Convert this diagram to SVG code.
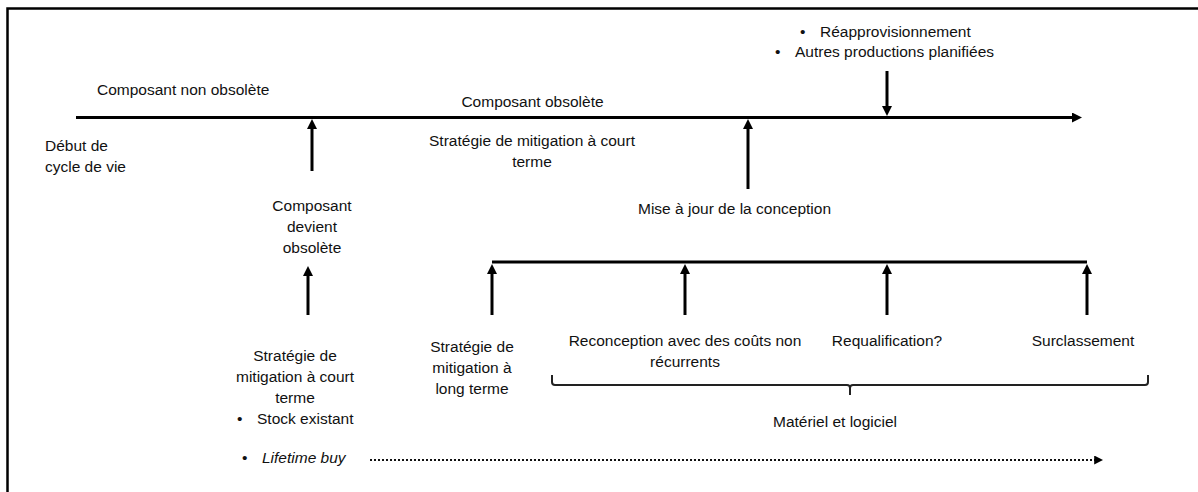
<svg xmlns="http://www.w3.org/2000/svg" width="1198" height="492" viewBox="0 0 1198 492">
<style>
  text { font-family: "Liberation Sans", Arial, sans-serif; font-size: 15.5px; fill: #111; }
  .mid { text-anchor: middle; }
  .ln { stroke: #000; stroke-width: 3; fill: none; }
  .brace { stroke: #222; stroke-width: 2; fill: none; }
  .dot { stroke: #111; stroke-width: 2; stroke-dasharray: 2 2; fill: none; }
</style>
<defs>
  <marker id="ah" viewBox="0 0 10 10" refX="2" refY="5" markerWidth="10" markerHeight="10" markerUnits="userSpaceOnUse" orient="auto">
    <path d="M0,0 L10,5 L0,10 z" fill="#000"/>
  </marker>
  <marker id="ah2" viewBox="0 0 10 10" refX="2" refY="5" markerWidth="9" markerHeight="9" markerUnits="userSpaceOnUse" orient="auto">
    <path d="M0,0 L10,5 L0,10 z" fill="#000"/>
  </marker>
</defs>
<rect width="1198" height="492" fill="#fff"/>
<rect x="7.5" y="8.5" width="1200" height="500" fill="none" stroke="#000" stroke-width="2.5"/>

<g id="connectors">
  <line class="ln" x1="76" y1="117.5" x2="1074" y2="117.5" marker-end="url(#ah)"/>
  <line class="ln" x1="312" y1="171" x2="312" y2="127" marker-end="url(#ah)"/>
  <line class="ln" x1="748" y1="189" x2="748" y2="127" marker-end="url(#ah)"/>
  <line class="ln" x1="887" y1="71" x2="887" y2="108" marker-end="url(#ah)"/>
  <line class="ln" x1="308" y1="315" x2="308" y2="274" marker-end="url(#ah)"/>
  <line class="ln" x1="492" y1="262" x2="1087" y2="262"/>
  <line class="ln" x1="492" y1="315" x2="492" y2="272" marker-end="url(#ah)"/>
  <line class="ln" x1="685" y1="315" x2="685" y2="272" marker-end="url(#ah)"/>
  <line class="ln" x1="887" y1="315" x2="887" y2="272" marker-end="url(#ah)"/>
  <line class="ln" x1="1087" y1="315" x2="1087" y2="272" marker-end="url(#ah)"/>
  <path class="brace" d="M552,375 L552,382 Q552,385 555,385 L847,385 Q850,385 850,388 L850,395 M850,388 Q850,385 853,385 L1145,385 Q1148,385 1148,382 L1148,375"/>
  <line class="dot" x1="370" y1="460" x2="1096" y2="460" marker-end="url(#ah2)"/>
</g>

<g id="n-non-obsolete"><text x="97" y="95">Composant non obsolète</text></g>
<g id="n-debut"><text x="45" y="151">Début de</text><text x="45" y="172">cycle de vie</text></g>
<g id="n-obsolete"><text class="mid" x="532.5" y="107">Composant obsolète</text></g>
<g id="n-court-terme-haut"><text class="mid" x="532" y="146">Stratégie de mitigation à court</text><text class="mid" x="532" y="167">terme</text></g>
<g id="n-reappro">
  <text x="800" y="37">•</text><text x="820" y="37">Réapprovisionnement</text>
  <text x="775" y="57">•</text><text x="795" y="57">Autres productions planifiées</text>
</g>
<g id="n-devient"><text class="mid" x="312" y="211">Composant</text><text class="mid" x="312" y="232">devient</text><text class="mid" x="312" y="253">obsolète</text></g>
<g id="n-mise-a-jour"><text x="638" y="214">Mise à jour de la conception</text></g>
<g id="n-court-terme">
  <text class="mid" x="295" y="361">Stratégie de</text>
  <text class="mid" x="295" y="382">mitigation à court</text>
  <text class="mid" x="295" y="403">terme</text>
  <text x="237" y="424">•</text><text x="257" y="424">Stock existant</text>
  <text x="242" y="463">•</text><text x="262" y="463" font-style="italic">Lifetime buy</text>
</g>
<g id="n-long-terme"><text class="mid" x="472" y="352">Stratégie de</text><text class="mid" x="472" y="373">mitigation à</text><text class="mid" x="472" y="394">long terme</text></g>
<g id="n-reconception"><text class="mid" x="685" y="346">Reconception avec des coûts non</text><text class="mid" x="685" y="367">récurrents</text></g>
<g id="n-requalification"><text class="mid" x="887" y="346">Requalification?</text></g>
<g id="n-surclassement"><text class="mid" x="1083" y="346">Surclassement</text></g>
<g id="n-materiel"><text class="mid" x="835" y="427">Matériel et logiciel</text></g>
</svg>
